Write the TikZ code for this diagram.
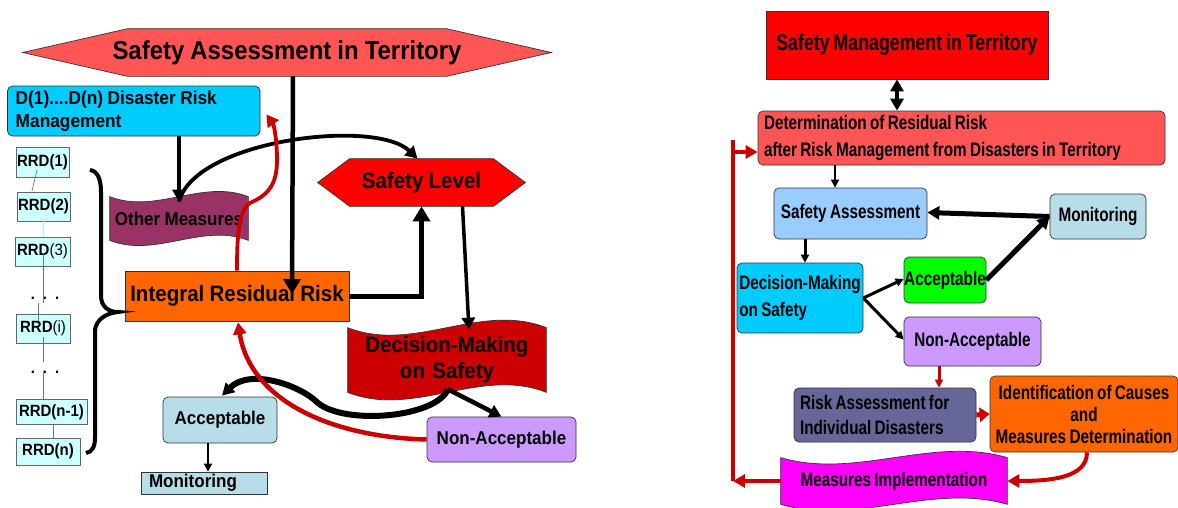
\documentclass[tikz,border=0pt]{standalone}
\usepackage{fontspec}
\setmainfont{Liberation Sans}
\newfontfamily\lfont[FakeStretch=0.92,WordSpace=0.92]{Liberation Sans}
\newfontfamily\rfont[FakeStretch=0.78,WordSpace=0.78]{Liberation Sans}
\usetikzlibrary{arrows.meta,calc,backgrounds}
\definecolor{hexred}{HTML}{FF5555}
\definecolor{dcyan}{HTML}{00CCFF}
\definecolor{rrdc}{HTML}{CCFFFF}
\definecolor{omc}{HTML}{993366}
\definecolor{irrc}{HTML}{FF6600}
\definecolor{slc}{HTML}{FF0000}
\definecolor{dmsc}{HTML}{CC0000}
\definecolor{accc}{HTML}{B7DEE8}
\definecolor{nac}{HTML}{CC99FF}
\definecolor{sac}{HTML}{99CCFF}
\definecolor{grc}{HTML}{00FF00}
\definecolor{rac}{HTML}{666699}
\definecolor{mic}{HTML}{FF00FF}
\definecolor{redarr}{HTML}{CC0000}
\newcommand{\mywave}[3]{%
  \filldraw[fill=#3, draw=black!80, line width=0.7pt]
   (#1.north west) .. controls ($(#1.north west)!0.333!(#1.north east)+(0,#2)$) and ($(#1.north west)!0.667!(#1.north east)+(0,-#2)$) .. (#1.north east)
   -- (#1.south east) .. controls ($(#1.south west)!0.667!(#1.south east)+(0,-#2)$) and ($(#1.south west)!0.333!(#1.south east)+(0,#2)$) .. (#1.south west) -- cycle;}
\newcommand{\myhex}[3]{%
  \filldraw[fill=#3, draw=black!80, line width=0.7pt]
   (#1.west) -- ($(#1.north west)+(#2,0)$) -- ($(#1.north east)+(-#2,0)$) -- (#1.east)
   -- ($(#1.south east)+(-#2,0)$) -- ($(#1.south west)+(#2,0)$) -- cycle;}
\begin{document}
\begin{tikzpicture}[x=1pt,y=-1pt,
  box/.style={draw=black!80, line width=0.7pt, inner sep=0pt, align=center},
  lbox/.style={box, font=\lfont\bfseries\fontsize{18.5pt}{23pt}\selectfont},
  lbig/.style={box, font=\lfont\bfseries\fontsize{22.3pt}{26pt}\selectfont},
  rrdbox/.style={box, draw=black!60, fill=rrdc, font=\lfont\bfseries\fontsize{16.3pt}{18pt}\selectfont},
  rbox/.style={box, rounded corners=5pt, font=\rfont\bfseries\fontsize{19.6pt}{27pt}\selectfont},
  conn/.style={line width=#1, draw=black},
  rconn/.style={line width=#1, draw=redarr},
  tipL/.style={-{Triangle[length=15pt,width=17pt]}},
  tipM/.style={-{Triangle[length=12pt,width=13pt]}},
  tipS/.style={-{Triangle[length=8pt,width=8pt]}},
  rrdline/.style={draw=black!55, line width=0.7pt}
]
\useasboundingbox (0,0) rectangle (1178,507);

% ---------------- left panel nodes ----------------
\node[box, draw=none, minimum width=528pt, minimum height=47pt,
      font=\lfont\bfseries\fontsize{26pt}{28pt}\selectfont] (sat) at (287,52.5) {Safety Assessment in Territory};
\node[lbox, fill=dcyan, rounded corners=5pt, minimum width=252.5pt, minimum height=50pt,
      text width=236pt, inner xsep=8.25pt, align=flush left,
      font=\lfont\bfseries\fontsize{18.8pt}{23pt}\selectfont] (dbox) at (133.75,111) {D(1)....D(n) Disaster Risk\\Management};
\node[rrdbox, minimum width=53pt, minimum height=30pt] (rrd1) at (42.5,162) {RRD(1)};
\node[rrdbox, minimum width=53pt, minimum height=29pt] (rrd2) at (43.5,206.5) {RRD(2)};
\node[rrdbox, minimum width=55pt, minimum height=29pt] (rrd3) at (42.5,251.5) {RRD{\mdseries(3)}};
\node[rrdbox, minimum width=54pt, minimum height=29pt] (rrdi) at (43,328.5) {RRD{\mdseries(i)}};
\node[rrdbox, minimum width=71pt, minimum height=25pt] (rrdn1) at (51.5,412) {RRD(n-1)};
\node[rrdbox, minimum width=64pt, minimum height=27pt] (rrdn) at (48,451.5) {RRD(n)};
\node[font=\lfont\bfseries\fontsize{16pt}{18pt}\selectfont, inner sep=0pt] (dots1) at (45,298) {.\,\,\,.\,\,\,.};
\node[font=\lfont\bfseries\fontsize{16pt}{18pt}\selectfont, inner sep=0pt] (dots2) at (45,372) {.\,\,\,.\,\,\,.};

\node[lbox, draw=none, minimum width=138pt, minimum height=43pt] (om) at (179,218.5) {Other Measures};
\node[lbig, fill=irrc, minimum width=224pt, minimum height=50pt] (irr) at (237,296) {Integral Residual Risk};
\node[lbig, draw=none, minimum width=207pt, minimum height=47pt] (sl) at (421.5,182.5) {Safety Level};
\node[lbig, draw=none, minimum width=198pt, minimum height=64pt, text width=198pt] (dms) at (447,360) {Decision-Making\\on Safety};
\node[lbox, fill=accc, rounded corners=5pt, minimum width=114pt, minimum height=46pt] (accL) at (220,420) {Acceptable};
\node[lbox, fill=accc, minimum width=126pt, minimum height=22pt, text width=110pt, inner xsep=8pt, align=flush left] (monL) at (204,483) {Monitoring};
\node[lbox, fill=nac, rounded corners=5pt, minimum width=149pt, minimum height=45pt] (naL) at (501.5,439.5) {Non-Acceptable};

% ---------------- right panel nodes ----------------
\node[rbox, fill=slc, rounded corners=0pt, minimum width=282pt, minimum height=68pt,
      font=\rfont\bfseries\fontsize{22.8pt}{26pt}\selectfont] (smt) at (907,45) {Safety Management in Territory};
\node[rbox, fill=hexred, minimum width=407pt, minimum height=54pt, text width=395pt, inner xsep=6pt, align=flush left] (drr) at (961.5,138)
  {Determination of Residual Risk\\after Risk Management from Disasters in Territory};
\node[rbox, fill=sac, minimum width=153pt, minimum height=51pt] (sa) at (850.5,213.5) {Safety Assessment};
\node[rbox, fill=accc, minimum width=96pt, minimum height=45pt] (monR) at (1098,216.5) {Monitoring};
\node[rbox, fill=grc, minimum width=82pt, minimum height=46pt] (accR) at (945,280) {Acceptable};
\node[rbox, fill=dcyan, minimum width=126pt, minimum height=70pt, align=flush left] (dmsR) at (800,298) {Decision-Making\\on Safety};
\node[rbox, fill=nac, minimum width=137pt, minimum height=49pt] (naR) at (972.5,341.5) {Non-Acceptable};
\node[rbox, fill=rac, minimum width=182pt, minimum height=54pt, text width=170pt, inner xsep=6pt, align=flush left,
      font=\rfont\bfseries\fontsize{19.6pt}{25pt}\selectfont] (ra) at (885,415) {Risk Assessment for\\Individual Disasters};
\node[rbox, fill=irrc, minimum width=188pt, minimum height=76pt,
      font=\rfont\bfseries\fontsize{19.6pt}{22pt}\selectfont] (icmd) at (1084,414) {Identification of Causes\\and\\Measures Determination};
\node[rbox, draw=none, rounded corners=0pt, minimum width=226pt, minimum height=46pt] (mi) at (894,481) {Measures Implementation};

% ---------------- shapes behind ----------------
\begin{scope}[on background layer]
  \fill[white] (0,0) rectangle (1178,507);
  \myhex{sat}{105}{hexred}
  \myhex{sl}{32}{slc}
  \mywave{om}{18}{omc}
  \mywave{dms}{26}{dmsc}
  \mywave{mi}{22}{mic}
\end{scope}

% ---------------- RRD column ----------------
\draw[rrdline] (37,170) -- (32,191);
\draw[draw=rrdc!70!cyan, line width=0.7pt] (43,221) -- (43,237);
\draw[rrdline] (43,253) -- (43,303);
\draw[rrdline] (38,303) -- (38,321);
\draw[rrdline] (43,337) -- (43,362);
\draw[rrdline] (43,372) -- (43,399.5);
\draw[rrdline] (53,424.5) -- (53,438);
\draw[line width=4pt] (90,170) .. controls (98,171) and (101,180) .. (101,192) -- (101,296)
   .. controls (101,306) and (108,312) .. (118,312)
   .. controls (106,313) and (96,320) .. (95,330) -- (95,438)
   .. controls (95,447) and (92,452) .. (86,453);

% ---------------- left connectors ----------------
\draw[conn=4.5pt, tipL] ($(sat.south)+(6,0)$) -- ($(irr.center)+(55,-2)$);
\draw[conn=3.5pt, tipM] (om.north |- dbox.south) -- ($(om.north)+(0,5)$);
\draw[conn=3.8pt, tipM] ($(om.north)+(0,5)$) .. controls (195,140) and (375,118) .. ($(sl.north)+(-4,0)$);
\draw[conn=5pt, tipL] (irr.east) -| (sl.south);
\draw[conn=3.5pt, tipM] ($(sl.south)+(41,0)$) -- ($(dms.north)+(22,2)$);
\draw[conn=6pt, tipM] ($(dms.south)+(1,-3)$) .. controls (435,418) and (345,425) .. (318,403)
   .. controls (300,385) and (250,368) .. ($(accL.north)+(2,-1)$);
\draw[conn=4.5pt, tipM] ($(dms.south)+(1,-3)$) -- (naL.north);
\draw[rconn=4.5pt, tipM] (naL.west) .. controls (330,437) and (250,400) .. ($(irr.south)+(1,1)$);
\draw[rconn=3.8pt, tipM] (irr.north) .. controls (237,240) and (238,210) .. (250,203)
   .. controls (268,195) and (277,185) .. (277,160)
   .. controls (277,140) and (274,125) .. ($(dbox.south east)+(6,-22)$);
\draw[conn=1.5pt, tipS] ($(accL.south)+(-12,0)$) -- ($(monL.north)+(4,0)$);

% ---------------- right connectors ----------------
\draw[conn=4pt, {Triangle[length=12pt,width=13pt]}-{Triangle[length=12pt,width=13pt]}] ($(smt.south)+(-10,0)$) -- ($(drr.north)+(-64.5,0)$);
\draw[conn=1.5pt, tipS] ($(drr.south)+(-126.5,0)$) -- ($(sa.north)+(-15.5,0)$);
\draw[conn=5pt, tipM] (monR.west) -- ($(sa.east)+(0,-1)$);
\draw[conn=5pt, tipM] (accR.east) -- (monR.west);
\draw[conn=3pt, tipS] (dmsR.east) -- ($(accR.west)+(0,-1)$);
\draw[conn=3pt, tipS] (dmsR.east) -- ($(naR.west)+(0,-2)$);
\draw[conn=3pt, tipS] ($(sa.south)+(-45.5,0)$) -- ($(dmsR.north)+(5,0)$);
\draw[rconn=3pt, tipS] ($(naR.south)+(-33.5,0)$) -- ($(ra.north)+(54,0)$);
\draw[rconn=5pt, -{Triangle[length=10pt,width=14pt]}] (ra.east) -- (icmd.west);
\draw[rconn=4pt, tipM] ($(icmd.south)+(3,0)$) .. controls (1087,478) and (1050,481) .. (mi.east);
\coordinate (lc) at (733,481);
\coordinate (ltop) at (733,140);
\coordinate (lmid) at (733,152);
\draw[rconn=4pt, tipM] (mi.west) -- (lc);
\draw[rconn=3.5pt] (lc) -- (ltop);
\draw[rconn=3.5pt, tipM] (lmid) -- (lmid -| drr.west);
\end{tikzpicture}
\end{document}
